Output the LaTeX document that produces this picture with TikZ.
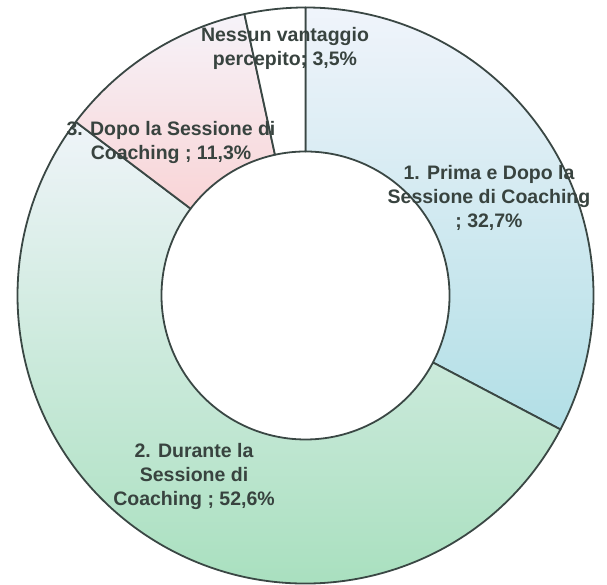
\documentclass[tikz,border=0pt]{standalone}
\usepackage{fontspec}
\setmainfont{Liberation Sans}
\definecolor{linegray}{HTML}{3A4744}
\definecolor{labelgray}{HTML}{38433F}
\definecolor{oneTop}{HTML}{F0F4FB}
\definecolor{oneBot}{HTML}{B2DFE6}
\definecolor{twoTop}{HTML}{EFF4F9}
\definecolor{twoBot}{HTML}{A3DEBA}
\definecolor{threeTop}{HTML}{F6F3F9}
\definecolor{threeBot}{HTML}{F9D4D6}
\begin{document}
\begin{tikzpicture}[x=1pt, y=1pt,
  slice/.style={draw=linegray, line width=1.8pt, line join=round},
  lbl/.style={align=center, inner sep=0pt, text=labelgray,
    font=\fontsize{19.5}{24}\selectfont\bfseries}]
  \useasboundingbox (0,0) rectangle (607,585);
  \begin{scope}[shift={(305.5,289.5)}]
  % 1. prima e dopo: 32,7%
  \path[slice, top color=oneTop, bottom color=oneBot]
    (90:288) arc[start angle=90, end angle=-27.72, radius=288]
    -- (-27.72:144) arc[start angle=-27.72, end angle=90, radius=144] -- cycle;
  % 2. durante: 52,6%
  \path[slice, top color=twoTop, bottom color=twoBot]
    (-27.72:288) arc[start angle=-27.72, end angle=-217.08, radius=288]
    -- (-217.08:144) arc[start angle=-217.08, end angle=-27.72, radius=144] -- cycle;
  % 3. dopo: 11,3%
  \path[slice, top color=threeTop, bottom color=threeBot]
    (-217.08:288) arc[start angle=-217.08, end angle=-257.76, radius=288]
    -- (-257.76:144) arc[start angle=-257.76, end angle=-217.08, radius=144] -- cycle;
  % nessun vantaggio: 3,5%
  \path[slice, fill=white]
    (-257.76:288) arc[start angle=-257.76, end angle=-270, radius=288]
    -- (-270:144) arc[start angle=-270, end angle=-257.76, radius=144] -- cycle;
  \end{scope}
  \node[lbl] (none) at (285,537) {Nessun vantaggio\\percepito; 3,5\%};
  \node[lbl] (after) at (171,442) {3. Dopo la Sessione di\\Coaching ; 11,3\%};
  \node[lbl] (both) at (489,387) {1. Prima e Dopo la\\Sessione di Coaching\\; 32,7\%};
  \node[lbl] (during) at (194,108) {2. Durante la\\Sessione di\\Coaching ; 52,6\%};
\end{tikzpicture}
\end{document}
